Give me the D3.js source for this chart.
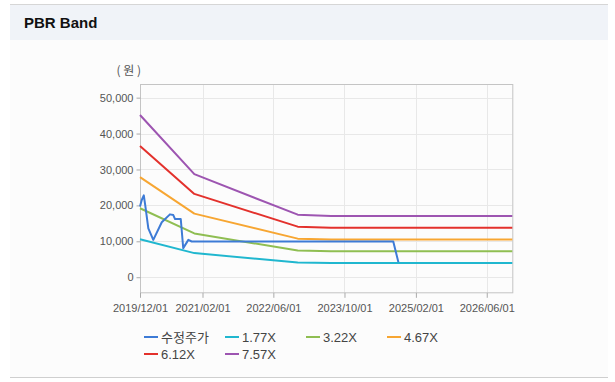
<!DOCTYPE html>
<html>
<head>
<meta charset="utf-8">
<script src="https://cdn.jsdelivr.net/npm/d3@7"></script>
<style>
  body { margin: 0; background: #fff; }
  svg { display: block; font-family: "Liberation Sans", Arial, sans-serif; }
</style>
</head>
<body>
<div id="chart"></div>
<script>
const parse = d3.timeParse('%Y-%m-%d');

// adjusted price
const priceDates = ['2019-12-01', '2019-12-13', '2019-12-27', '2020-01-06', '2020-01-27', '2020-03-01',
  '2020-04-28', '2020-06-23', '2020-07-16', '2020-07-28', '2020-09-05', '2020-09-22', '2020-10-27',
  '2020-11-19', '2024-08-30', '2024-10-04'];
const priceValues = [19700, 21500, 22800, 20000, 13600, 10400, 15300, 17500, 17300, 16200, 16200,
  8100, 10400, 9950, 9950, 4200];

// band lines
const bandDates = ['2019-12-01', '2020-12-07', '2022-11-15', '2023-07-01', '2026-11-23'];
const band177 = [10560, 6710, 4070, 3990, 3990];
const band322 = [19210, 12200, 7410, 7260, 7260];
const band467 = [27860, 17700, 10740, 10530, 10530];
const band612 = [36510, 23200, 14080, 13800, 13800];
const band757 = [45160, 28690, 17410, 17070, 17070];

const seriesNames = ['수정주가', '1.77X', '3.22X', '4.67X', '6.12X', '7.57X'];
const colors = ['#3d7bd6', '#20b7cf', '#8fbe52', '#f7a632', '#e3312c', '#9d55b1'];

const yTicks = [0, 10000, 20000, 30000, 40000, 50000];
const xTicks = ['2019-12-01', '2021-02-01', '2022-06-01', '2023-10-01', '2025-02-01', '2026-06-01'];

const width = 615;
const height = 382;
const plot = { left: 140, right: 512.3, top: 84, bottom: 292.3 };

const svg = d3.select('#chart')
  .append('svg')
  .attr('width', width)
  .attr('height', height);

// panel
svg.append('rect').attr('x', 10).attr('y', 4).attr('width', 598).attr('height', 374).attr('fill', '#fcfcfc');
svg.append('rect').attr('x', 10).attr('y', 5).attr('width', 598).attr('height', 35).attr('fill', '#f0f3f8');
svg.append('line').attr('x1', 10).attr('x2', 608).attr('y1', 4.5).attr('y2', 4.5).attr('stroke', '#d6d6d6');
svg.append('line').attr('x1', 10).attr('x2', 608).attr('y1', 377.5).attr('y2', 377.5).attr('stroke', '#cfcfcf');

svg.append('text')
  .attr('x', 24)
  .attr('y', 28)
  .attr('font-size', 15)
  .attr('font-weight', 'bold')
  .attr('fill', '#111')
  .text('PBR Band');

const x = d3.scaleTime()
  .domain([parse('2019-12-01'), parse('2026-11-23')])
  .range([plot.left, plot.right]);

const y = d3.scaleLinear()
  .domain([-4200, 53800])
  .range([plot.bottom, plot.top]);

// grid
svg.append('g')
  .selectAll('line')
  .data(yTicks)
  .join('line')
  .attr('x1', plot.left)
  .attr('x2', plot.right)
  .attr('y1', d => Math.round(y(d)) + 0.5)
  .attr('y2', d => Math.round(y(d)) + 0.5)
  .attr('stroke', '#e8e8e8');

svg.append('g')
  .selectAll('line')
  .data(xTicks.map(parse))
  .join('line')
  .attr('x1', d => Math.round(x(d)) + 0.5)
  .attr('x2', d => Math.round(x(d)) + 0.5)
  .attr('y1', plot.top)
  .attr('y2', plot.bottom)
  .attr('stroke', '#e8e8e8');

svg.append('rect')
  .attr('x', plot.left + 0.5)
  .attr('y', plot.top + 0.5)
  .attr('width', plot.right - plot.left)
  .attr('height', plot.bottom - plot.top)
  .attr('fill', 'none')
  .attr('stroke', '#c4c4c4');

// axes
const yAxis = svg.append('g')
  .attr('transform', `translate(${plot.left + 0.5}, 0)`)
  .call(d3.axisLeft(y).tickValues(yTicks).tickSize(4).tickPadding(3).tickFormat(d3.format(',')))
  .call(g => g.select('.domain').remove())
  .call(g => g.selectAll('.tick line').attr('stroke', '#aaa'))
  .call(g => g.selectAll('.tick text').attr('fill', '#555').attr('font-size', 11)
    .attr('font-family', '"Liberation Sans", Arial, sans-serif'));

const xAxis = svg.append('g')
  .attr('transform', `translate(0, ${plot.bottom + 0.5})`)
  .call(d3.axisBottom(x).tickValues(xTicks.map(parse)).tickSize(5).tickPadding(6)
    .tickFormat(d3.timeFormat('%Y/%m/%d')))
  .call(g => g.select('.domain').remove())
  .call(g => g.selectAll('.tick line').attr('stroke', '#aaa'))
  .call(g => g.selectAll('.tick text').attr('fill', '#555').attr('font-size', 11)
    .attr('font-family', '"Liberation Sans", Arial, sans-serif'));

svg.append('text')
  .attr('x', 141)
  .attr('y', 75)
  .attr('text-anchor', 'end')
  .attr('font-size', 12)
  .attr('fill', '#555')
  .attr('font-family', '"Noto Sans CJK KR", sans-serif')
  .text('( 원 )');

// lines
const line = d3.line()
  .x(d => x(d.date))
  .y(d => y(d.value));

const zip = (dates, values) => dates.map((d, i) => ({ date: parse(d), value: values[i] }));

const series = [
  zip(priceDates, priceValues),
  zip(bandDates, band177),
  zip(bandDates, band322),
  zip(bandDates, band467),
  zip(bandDates, band612),
  zip(bandDates, band757)
];

const drawOrder = [1, 2, 3, 4, 5, 0];

svg.append('g')
  .selectAll('path')
  .data(drawOrder)
  .join('path')
  .attr('d', i => line(series[i]))
  .attr('fill', 'none')
  .attr('stroke', i => colors[i])
  .attr('stroke-width', 2)
  .attr('stroke-linejoin', 'round');

// legend
const legend = svg.append('g')
  .selectAll('g')
  .data(seriesNames)
  .join('g')
  .attr('transform', (d, i) => `translate(${144 + (i % 4) * 81}, ${337 + Math.floor(i / 4) * 17})`);

legend.append('line')
  .attr('x1', 0)
  .attr('x2', 14)
  .attr('stroke', (d, i) => colors[i])
  .attr('stroke-width', 2);

legend.append('text')
  .attr('x', 17)
  .attr('dy', '0.36em')
  .attr('font-size', 13)
  .attr('fill', '#444')
  .attr('font-family', d => d === '수정주가' ? '"Noto Sans CJK KR", sans-serif' : '"Liberation Sans", Arial, sans-serif')
  .text(d => d);
</script>
</body>
</html>
